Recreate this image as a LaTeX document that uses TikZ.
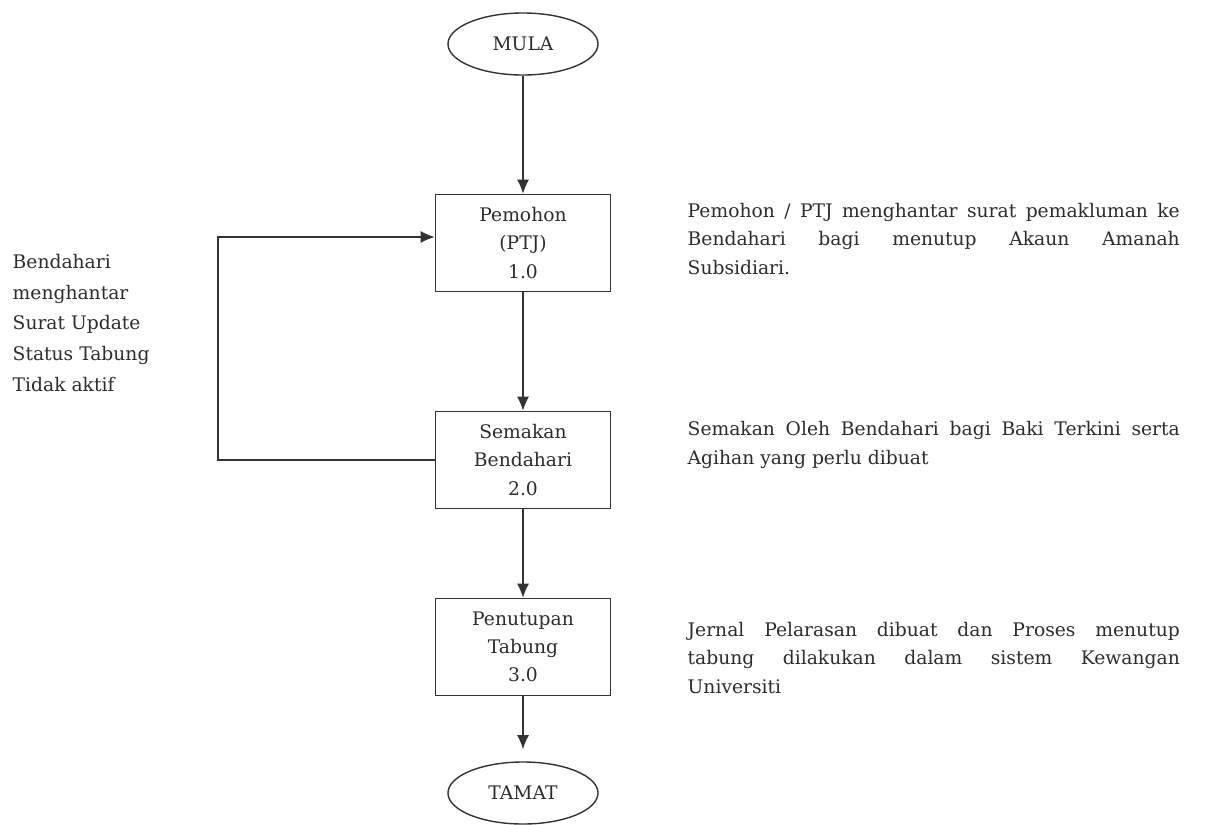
\documentclass[tikz,border=0pt]{standalone}
\usepackage{fontspec}
\setmainfont{DejaVu Serif}
\usetikzlibrary{arrows.meta,shapes.geometric}

\definecolor{garis}{HTML}{333333}
\definecolor{tulis}{HTML}{2C2C2C}

\tikzset{
	proses/.style={draw=garis, rectangle, minimum width=4.375cm, minimum height=2.425cm, align=center, inner sep=0pt},
	hujung/.style={draw=garis, ellipse, minimum width=3.75cm, minimum height=1.55cm, inner sep=0pt},
	catatan/.style={text width=12.3cm, align=justify, anchor=west, inner sep=0pt},
}

\begin{document}
\begin{tikzpicture}[x=0.025cm, y=-0.025cm, >={Latex[length=10pt,width=8.5pt]}, line width=1pt, text=tulis, font=\fontsize{13.3}{20}\selectfont]
				\useasboundingbox (0,0) rectangle (1224,824);
				% aliran utama
				\node[hujung] (mula) at (523,44) {MULA};
				\node[proses] (pemohon) at (523,243) {Pemohon\\(PTJ)\\1.0};
				\node[proses] (semakan) at (523,460) {Semakan\\Bendahari\\2.0};
				\node[proses] (tutup) at (523,647) {Penutupan\\Tabung\\3.0};
				\node[hujung] (tamat) at (523,793) {TAMAT};
				\draw[->, garis] (mula) -- (pemohon);
				\draw[->, garis] (pemohon) -- (semakan);
				\draw[->, garis] (semakan) -- (tutup);
				\draw[->, garis, shorten >=0.3cm] (tutup) -- (tamat);
				% gelung balik
				\coordinate (balik) at (218,237);
				\draw[->, garis] (semakan.west) -| (balik) -- (balik -| pemohon.west);
				\node[anchor=west, align=left, inner sep=0pt, font=\fontsize{13.3}{22}\selectfont] (notakiri) at (12,323)
					{Bendahari\\menghantar\\Surat Update\\Status Tabung\\Tidak aktif};
				% keterangan
				\node[catatan] (nota1) at (687,239) {Pemohon / PTJ menghantar surat pemakluman ke\linebreak Bendahari bagi menutup Akaun Amanah\linebreak Subsidiari.};
				\node[catatan] (nota2) at (687,445) {Semakan Oleh Bendahari bagi Baki Terkini serta\linebreak Agihan yang perlu dibuat};
				\node[catatan] (nota3) at (687,658) {Jernal Pelarasan dibuat dan Proses menutup\linebreak tabung dilakukan dalam sistem Kewangan\linebreak Universiti};
			\end{tikzpicture}
\end{document}
